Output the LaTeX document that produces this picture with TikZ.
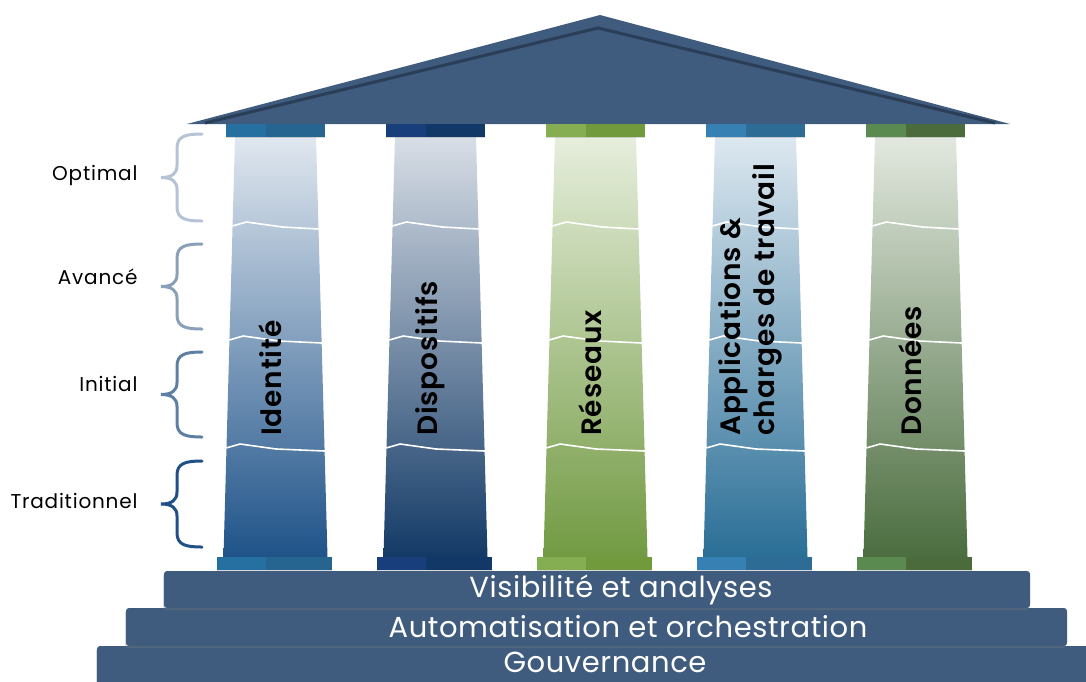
\documentclass[tikz,border=0pt]{standalone}
\usepackage{fontspec}
\setmainfont{Poppins}
\newfontfamily\levelfont{Poppins}[LetterSpace=4]
\newfontfamily\stairfont{Poppins}[LetterSpace=2]
\newfontfamily\pillarfont{Poppins SemiBold}[LetterSpace=3]
\usetikzlibrary{shadows}

\definecolor{roofblue}{HTML}{3F5B7D}
\definecolor{roofline}{HTML}{2B3E57}
\definecolor{identtop}{HTML}{E0E7EF}
\definecolor{identbot}{HTML}{1F5389}
\definecolor{identcapa}{HTML}{2570A0}
\definecolor{identcapb}{HTML}{25658F}
\definecolor{disptop}{HTML}{D8DEE6}
\definecolor{dispbot}{HTML}{133A66}
\definecolor{dispcapa}{HTML}{183F7C}
\definecolor{dispcapb}{HTML}{123868}
\definecolor{restop}{HTML}{E6EEDC}
\definecolor{resbot}{HTML}{729A43}
\definecolor{rescapa}{HTML}{84AE51}
\definecolor{rescapb}{HTML}{719A3D}
\definecolor{apptop}{HTML}{DDE8F0}
\definecolor{appbot}{HTML}{2A6E96}
\definecolor{appcapa}{HTML}{3680B4}
\definecolor{appcapb}{HTML}{2D6C94}
\definecolor{dontop}{HTML}{E2E8DF}
\definecolor{donbot}{HTML}{4B6D3F}
\definecolor{doncapa}{HTML}{5B8A51}
\definecolor{doncapb}{HTML}{4B6B3C}
\definecolor{levelone}{HTML}{B5C3D5}
\definecolor{leveltwo}{HTML}{8A9FB8}
\definecolor{levelthree}{HTML}{5E7FA3}
\definecolor{levelfour}{HTML}{1F5086}

\begin{document}
\begin{tikzpicture}[x=1pt,y=-1pt,
  level/.style={anchor=east, font=\levelfont\fontsize{20}{24}\selectfont},
  bracket/.style={line width=3pt, line cap=round},
  stair/.style={fill=roofblue, rounded corners=3pt,
    drop shadow={opacity=0.3, shadow xshift=-1pt, shadow yshift=-2pt}},
  stairtext/.style={text=white, inner sep=0pt, font=\stairfont\fontsize{29}{32}\selectfont},
  pillartext/.style={rotate=90, anchor=west, align=left, inner sep=0pt,
    font=\pillarfont\fontsize{28}{34}\selectfont},
  crack/.style={white, line width=1.6pt},
  capital/.style={drop shadow={opacity=0.3, shadow xshift=0pt, shadow yshift=-1pt}}]
  \useasboundingbox (0,0) rectangle (1086,681);

  % roof
  \fill[roofblue] (187,124) -- (600,15) -- (1010,124) -- cycle;
  \draw[roofline, line width=3pt] (205,123) -- (598,28) -- (995,123);

  % steps
  \begin{scope}
    \clip (0,0) rectangle (1086,681);
    \path[stair] (97,646) rectangle (1100,690);
    \path[stair] (126,608) rectangle (1067,646);
    \path[stair] (164,571) rectangle (1030,608);
  \end{scope}
  \node[stairtext] (visibilite) at (621,590) {Visibilité et analyses};
  \node[stairtext] (automatisation) at (628,627) {Automatisation et orchestration};
  \node[stairtext] (gouvernance) at (605,662) {Gouvernance};

  % pillars
  \foreach \cx/\nm/\txt in {275.5/ident/Identité, 435.5/disp/Dispositifs,
      595.5/res/Réseaux, 755.5/app/{Applications \&\\charges de travail},
      915.5/don/Données} {
    \shade[top color=\nm top, bottom color=\nm bot]
      (\cx-40.5,137) -- (\cx+40.5,137) -- (\cx+52,557) -- (\cx-52,557) -- cycle;
    \foreach \cy in {226,340,448} {
      \pgfmathsetmacro\xl{\cx-40.5-12*(\cy-137)/420}
      \pgfmathsetmacro\xr{\cx+40.5+12*(\cy-137)/420}
      \draw[crack] (\xl,\cy) -- (\xl+14,\cy-4) -- (\xl+50,\cy+1) -- (\xr,\cy+3);
    }
    \path[capital, fill=\nm capb] (\cx-50,124) rectangle (\cx+49,137);
    \fill[\nm capa] (\cx-50,124) rectangle (\cx-10,137);
    \path[capital, fill=\nm capb] (\cx-58.5,557) rectangle (\cx+56.5,570);
    \fill[\nm capa] (\cx-58.5,557) rectangle (\cx-10,570);
    \node[pillartext] (pillar-\nm) at (\cx-5,436) {\txt};
  }

  % maturity levels
  \foreach \top/\bot/\col in {134/221/levelone, 244/329/leveltwo,
      352/437/levelthree, 461/547/levelfour} {
    \pgfmathsetmacro\mid{(\top+\bot)/2}
    \draw[bracket, \col] (202,\top) .. controls (186,\top) and (177,\top+2) .. (177,\top+14)
      -- (177,\mid-12) .. controls (177,\mid-4) and (172,\mid) .. (161,\mid)
      .. controls (172,\mid) and (177,\mid+4) .. (177,\mid+12)
      -- (177,\bot-14) .. controls (177,\bot-2) and (186,\bot) .. (202,\bot);
  }
  \node[level] (optimal) at (141,175) {Optimal};
  \node[level] (avance) at (141,277) {Avancé};
  \node[level] (initial) at (141,384) {Initial};
  \node[level] (traditionnel) at (141,501) {Traditionnel};
\end{tikzpicture}
\end{document}
